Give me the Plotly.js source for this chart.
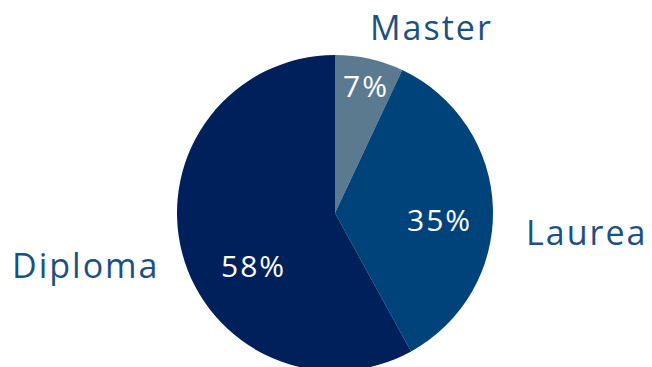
<!DOCTYPE html>
<html>
<head>
<meta charset="utf-8">
<script src="https://cdn.plot.ly/plotly-3.0.1.min.js"></script>
<style>
html,body{margin:0;padding:0;overflow:hidden;width:652px;height:367px;background:#fff;}
#chart{width:652px;height:380px;}
#chart .annotation-text{letter-spacing:2px;}
</style>
</head>
<body>
<div id="chart"></div>
<script>
const categories = ["Master", "Laurea", "Diploma"];
const shares = [7, 35, 58];
const sliceColors = ["#5b7a90", "#00427a", "#00205b"];
// label anchor positions (paper units of the plot area)
const namePos = [[0.652, 1.088], [0.897, 0.44], [0.107, 0.335]];
const pctPos = [[0.549, 0.905], [0.6656, 0.478], [0.3707, 0.335]];

const total = shares.reduce((a, b) => a + b, 0);

const trace = {
  type: "pie",
  labels: categories,
  values: shares,
  sort: false,
  direction: "clockwise",
  rotation: 0,
  marker: {colors: sliceColors, line: {color: "#ffffff", width: 0}},
  textinfo: "none",
  hoverinfo: "label+percent",
  showlegend: false
};

const pctAnnotations = categories.map((c, i) => ({
  text: Math.round(shares[i] / total * 100) + "%",
  xref: "paper", yref: "paper",
  x: pctPos[i][0], y: pctPos[i][1],
  xanchor: "center", yanchor: "middle",
  showarrow: false,
  font: {family: "Open Sans, sans-serif", size: 30, color: "#ffffff"}
}));

const nameAnnotations = categories.map((c, i) => ({
  text: c,
  xref: "paper", yref: "paper",
  x: namePos[i][0], y: namePos[i][1],
  xanchor: "center", yanchor: "middle",
  showarrow: false,
  font: {family: "Open Sans, sans-serif", size: 34, color: "#1b5083"}
}));

const layout = {
  width: 652,
  height: 380,
  margin: {l: 18, r: 0, t: 55, b: 9},
  paper_bgcolor: "#ffffff",
  showlegend: false,
  annotations: pctAnnotations.concat(nameAnnotations)
};

Plotly.newPlot("chart", [trace], layout, {staticPlot: true, displayModeBar: false});
</script>
</body>
</html>
